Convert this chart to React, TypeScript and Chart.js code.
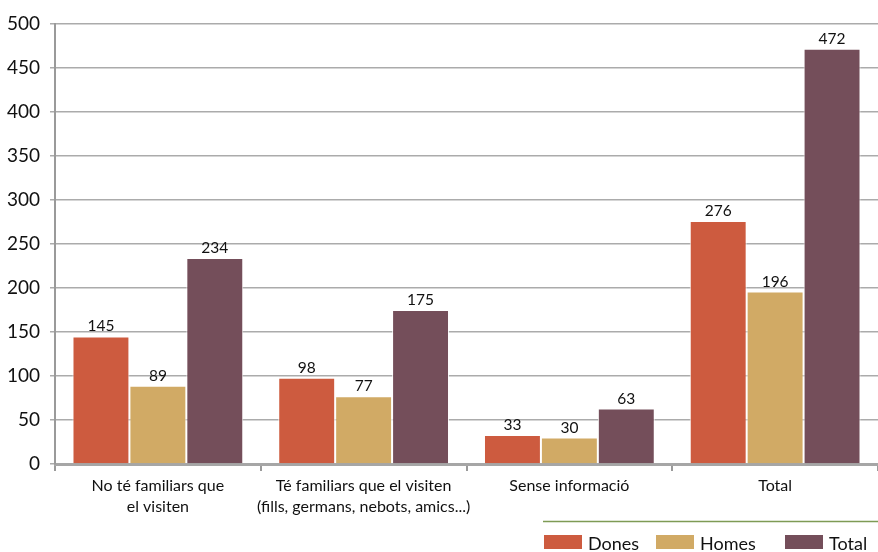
import React, { useEffect, useRef } from "react";
import { Chart, registerables } from "chart.js";

Chart.register(...registerables);

const categories: (string | string[])[] = [
  ["No té familiars que", "el visiten"],
  ["Té familiars que el visiten", "(fills, germans, nebots, amics...)"],
  "Sense informació",
  "Total",
];
const dones = [145, 98, 33, 276];
const homes = [89, 77, 30, 196];
const total = [234, 175, 63, 472];
const seriesNames = ["Dones", "Homes", "Total"];
const seriesColors = ["#CD5B3F", "#D1AA65", "#744E5A"];

const FONT = "Lato, 'Liberation Sans', sans-serif";

const valueLabels = {
  id: "valueLabels",
  afterDatasetsDraw(chart: any) {
    const ctx = chart.ctx;
    ctx.save();
    ctx.font = `15.5px ${FONT}`;
    ctx.fillStyle = "#111";
    ctx.textAlign = "center";
    ctx.textBaseline = "alphabetic";
    chart.data.datasets.forEach((ds: any, i: number) => {
      const meta = chart.getDatasetMeta(i);
      meta.data.forEach((el: any, j: number) => {
        ctx.fillText(String(ds.data[j]), el.x, el.y - 5);
      });
    });
    ctx.restore();
  },
};

const customLegend = {
  id: "customLegend",
  afterDraw(chart: any) {
    const ctx = chart.ctx;
    ctx.save();
    ctx.strokeStyle = "#7E9B55";
    ctx.lineWidth = 1.5;
    ctx.beginPath();
    ctx.moveTo(543, 521.5);
    ctx.lineTo(878, 521.5);
    ctx.stroke();
    const starts = [544, 656, 785];
    ctx.font = `18px ${FONT}`;
    ctx.textBaseline = "alphabetic";
    ctx.textAlign = "left";
    chart.data.datasets.forEach((ds: any, i: number) => {
      const x = starts[i];
      ctx.fillStyle = ds.backgroundColor;
      ctx.fillRect(x, 535, 38, 14);
      ctx.fillStyle = "#111";
      ctx.fillText(ds.label, x + 44, 549.5);
    });
    ctx.restore();
  },
};

export default function App() {
  const ref = useRef<HTMLCanvasElement>(null);
  useEffect(() => {
    if (!ref.current) return;
    const data = [dones, homes, total];
    const chart = new Chart(ref.current, {
      type: "bar",
      data: {
        labels: categories as any,
        datasets: data.map((d, i) => ({
          label: seriesNames[i],
          data: d,
          backgroundColor: seriesColors[i],
          borderColor: "rgba(255,255,255,0.85)",
          borderWidth: 1,
          barPercentage: 1,
          categoryPercentage: 0.83,
        })),
      },
      options: {
        responsive: false,
        animation: false,
        devicePixelRatio: 1,
        layout: { padding: { top: 24, right: 0, bottom: 0, left: 0 } },
        plugins: {
          legend: { display: false },
          tooltip: { enabled: false },
        },
        scales: {
          x: {
            grid: {
              display: true,
              drawOnChartArea: false,
              tickLength: 7,
              color: "#9a9a9a",
              lineWidth: 2,
              offset: true,
            },
            border: { display: true, color: "#a6a6a6", width: 3 },
            ticks: {
              font: { family: FONT, size: 16, lineHeight: 1.32 },
              color: "#111",
              padding: 4,
              maxRotation: 0,
              autoSkip: false,
            },
            afterFit: (s: any) => {
              s.height = 88;
            },
          },
          y: {
            min: 0,
            max: 500,
            ticks: {
              stepSize: 50,
              font: { family: FONT, size: 19 },
              color: "#111",
              padding: 10,
            },
            grid: { color: "#ababab", lineWidth: 1.5, tickLength: 5 },
            border: { display: true, color: "#9a9a9a", width: 2 },
            afterFit: (s: any) => {
              s.width = 55;
            },
          },
        },
      },
      plugins: [valueLabels, customLegend],
    });
    return () => chart.destroy();
  }, []);
  return (
    <div style={{ position: "fixed", left: 0, top: 0, width: 878, height: 552, background: "#fff" }}>
      <canvas ref={ref} width={878} height={552} style={{ width: 878, height: 552, display: "block" }} />
    </div>
  );
}
